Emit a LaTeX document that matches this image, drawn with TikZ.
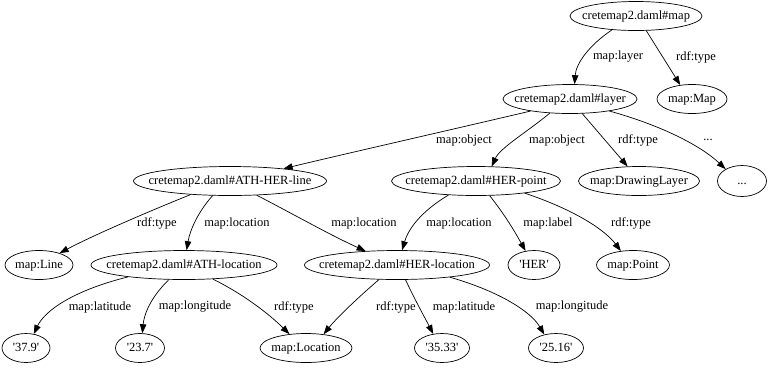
\documentclass[tikz,border=0pt]{standalone}
\usepackage{fontspec}
\setmainfont{Liberation Serif}
\usetikzlibrary{shapes.geometric,arrows.meta}
\newcommand{\lbx}[1]{\makebox[0pt][c]{#1}}
\newcommand{\sq}{\textquotesingle}
\begin{document}
\begin{tikzpicture}[x=1pt,y=-1pt,
 nd/.style={ellipse,draw,line width=0.7pt,inner sep=0pt,minimum height=29pt,text height=8.5pt,text depth=2.5pt,font=\fontsize{12.5}{14}\selectfont},
 el/.style={inner sep=0pt,font=\fontsize{12.5}{14}\selectfont},
 ed/.style={draw,line width=0.7pt,-{Triangle[length=9pt,width=6.5pt]}}]
\useasboundingbox (0,0) rectangle (770,368);
% nodes
\node[nd,minimum width=132pt] (map) at (636,16) {\lbx{cretemap2.daml\#map}};
\node[nd,minimum width=134pt] (layer) at (570,99) {\lbx{cretemap2.daml\#layer}};
\node[nd,minimum width=70pt] (Map) at (692,99) {\lbx{map:Map}};
\node[nd,minimum width=193pt] (line) at (230,181) {\lbx{cretemap2.daml\#ATH-HER-line}};
\node[nd,minimum width=169pt] (point) at (476,181) {\lbx{cretemap2.daml\#HER-point}};
\node[nd,minimum width=121pt] (DL) at (639,181) {\lbx{map:DrawingLayer}};
\node[nd,minimum width=49pt,minimum height=31pt] (dots) at (742,181) {\lbx{...}};
\node[nd,minimum width=68pt] (Line) at (39,265) {\lbx{map:Line}};
\node[nd,minimum width=186pt] (athloc) at (184,265) {\lbx{cretemap2.daml\#ATH-location}};
\node[nd,minimum width=185pt] (herloc) at (397,265) {\lbx{cretemap2.daml\#HER-location}};
\node[nd,minimum width=52pt] (HER) at (534,265) {\lbx{\sq HER\sq}};
\node[nd,minimum width=73pt] (Point) at (633,265) {\lbx{map:Point}};
\node[nd,minimum width=48pt] (v379) at (26,348) {\lbx{\sq 37.9\sq}};
\node[nd,minimum width=49pt] (v237) at (140,348) {\lbx{\sq 23.7\sq}};
\node[nd,minimum width=92pt] (Loc) at (306,348) {\lbx{map:Location}};
\node[nd,minimum width=55pt] (v3533) at (442,348) {\lbx{\sq 35.33\sq}};
\node[nd,minimum width=55pt] (v2516) at (556,348) {\lbx{\sq 25.16\sq}};
% edges
\draw[ed] (map.210) .. controls (588,46) and (576,64) .. (layer.73);
\draw[ed] (map.305) -- (Map.130);
\draw[ed] (layer.197) .. controls (450,130) and (340,155) .. (line.13);
\draw[ed] (layer.215) .. controls (527,132) and (500,148) .. (point.43);
\draw[ed] (layer.310) -- (DL.128);
\draw[ed] (layer.343) .. controls (660,125) and (700,145) .. (dots.144);
\draw[ed] (line.199) .. controls (140,215) and (90,237) .. (Line.30);
\draw[ed] (line.220) .. controls (198,212) and (190,230) .. (athloc.80);
\draw[ed] (line.332) .. controls (295,215) and (330,235) .. (herloc.156);
\draw[ed] (point.207) .. controls (420,212) and (408,230) .. (herloc.71);
\draw[ed] (point.313) .. controls (505,215) and (515,232) .. (HER.121);
\draw[ed] (point.346) .. controls (575,210) and (605,230) .. (Point.131);
\draw[ed] (athloc.192) .. controls (75,290) and (45,310) .. (v379.61);
\draw[ed] (athloc.224) .. controls (150,298) and (144,315) .. (v237.81);
\draw[ed] (athloc.334) .. controls (245,295) and (270,315) .. (Loc.140);
\draw[ed] (herloc.219) .. controls (355,300) and (335,320) .. (Loc.38);
\draw[ed] (herloc.300) .. controls (415,300) and (425,318) .. (v3533.122);
\draw[ed] (herloc.347) .. controls (495,290) and (530,310) .. (v2516.131);
% edge labels
\node[el] (l1) at (618,57) {map:layer};
\node[el] (l2) at (696,57) {rdf:type};
\node[el] (l3) at (464,140) {map:object};
\node[el] (l4) at (557,140) {map:object};
\node[el] (l5) at (638,140) {rdf:type};
\node[el] (l6) at (708,140) {...};
\node[el] (l7) at (157,223) {rdf:type};
\node[el] (l8) at (237,223) {map:location};
\node[el] (l9) at (364,223) {map:location};
\node[el] (l10) at (459,223) {map:location};
\node[el] (l11) at (548,223) {map:label};
\node[el] (l12) at (631,223) {rdf:type};
\node[el] (l13) at (100,307) {map:latitude};
\node[el] (l14) at (195,307) {map:longitude};
\node[el] (l15) at (294,307) {rdf:type};
\node[el] (l16) at (396,307) {rdf:type};
\node[el] (l17) at (464,307) {map:latitude};
\node[el] (l18) at (572,307) {map:longitude};
\end{tikzpicture}
\end{document}
